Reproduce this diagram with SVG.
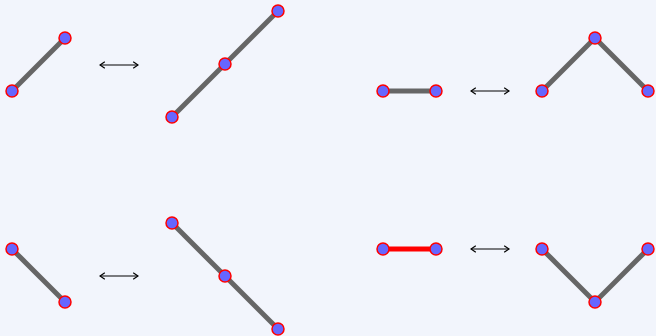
<svg xmlns="http://www.w3.org/2000/svg" width="656" height="336" viewBox="0 0 656 336">
<style>
.e{stroke:#666;stroke-width:5;fill:none}
.r{stroke:#f00;stroke-width:5;fill:none}
.n{fill:#6666ff;stroke:#f00;stroke-width:1.5}
.a{stroke:#000;stroke-width:1.2;fill:none;marker-start:url(#ah);marker-end:url(#ah)}
</style>
<defs>
<marker id="ah" viewBox="0 0 10 10" refX="9" refY="5" markerWidth="8" markerHeight="8" orient="auto-start-reverse" markerUnits="userSpaceOnUse">
<path d="M3,1 L9,5 L3,9" fill="none" stroke="#000" stroke-width="1.5"/>
</marker>
</defs>
<rect width="656" height="336" fill="#f2f5fc"/>
<g id="connectors">
<line class="e" x1="12" y1="91" x2="65" y2="38"/>
<line class="e" x1="172" y1="117" x2="225" y2="64"/>
<line class="e" x1="225" y1="64" x2="278" y2="11"/>
<line class="e" x1="383" y1="91" x2="436" y2="91"/>
<line class="e" x1="542" y1="91" x2="595" y2="38"/>
<line class="e" x1="595" y1="38" x2="648" y2="91"/>
<line class="e" x1="12" y1="249" x2="65" y2="302"/>
<line class="e" x1="172" y1="223" x2="225" y2="276"/>
<line class="e" x1="225" y1="276" x2="278" y2="329"/>
<line class="r" x1="383" y1="249" x2="436" y2="249"/>
<line class="e" x1="542" y1="249" x2="595" y2="302"/>
<line class="e" x1="595" y1="302" x2="648" y2="249"/>
<line class="a" x1="100" y1="65" x2="138" y2="65"/>
<line class="a" x1="471" y1="91" x2="509" y2="91"/>
<line class="a" x1="100" y1="276" x2="138" y2="276"/>
<line class="a" x1="471" y1="249" x2="509" y2="249"/>
</g>
<g id="n1"><circle class="n" cx="12" cy="91" r="6"/></g>
<g id="n2"><circle class="n" cx="65" cy="38" r="6"/></g>
<g id="n3"><circle class="n" cx="172" cy="117" r="6"/></g>
<g id="n4"><circle class="n" cx="225" cy="64" r="6"/></g>
<g id="n5"><circle class="n" cx="278" cy="11" r="6"/></g>
<g id="n6"><circle class="n" cx="383" cy="91" r="6"/></g>
<g id="n7"><circle class="n" cx="436" cy="91" r="6"/></g>
<g id="n8"><circle class="n" cx="542" cy="91" r="6"/></g>
<g id="n9"><circle class="n" cx="595" cy="38" r="6"/></g>
<g id="n10"><circle class="n" cx="648" cy="91" r="6"/></g>
<g id="n11"><circle class="n" cx="12" cy="249" r="6"/></g>
<g id="n12"><circle class="n" cx="65" cy="302" r="6"/></g>
<g id="n13"><circle class="n" cx="172" cy="223" r="6"/></g>
<g id="n14"><circle class="n" cx="225" cy="276" r="6"/></g>
<g id="n15"><circle class="n" cx="278" cy="329" r="6"/></g>
<g id="n16"><circle class="n" cx="383" cy="249" r="6"/></g>
<g id="n17"><circle class="n" cx="436" cy="249" r="6"/></g>
<g id="n18"><circle class="n" cx="542" cy="249" r="6"/></g>
<g id="n19"><circle class="n" cx="595" cy="302" r="6"/></g>
<g id="n20"><circle class="n" cx="648" cy="249" r="6"/></g>
</svg>
